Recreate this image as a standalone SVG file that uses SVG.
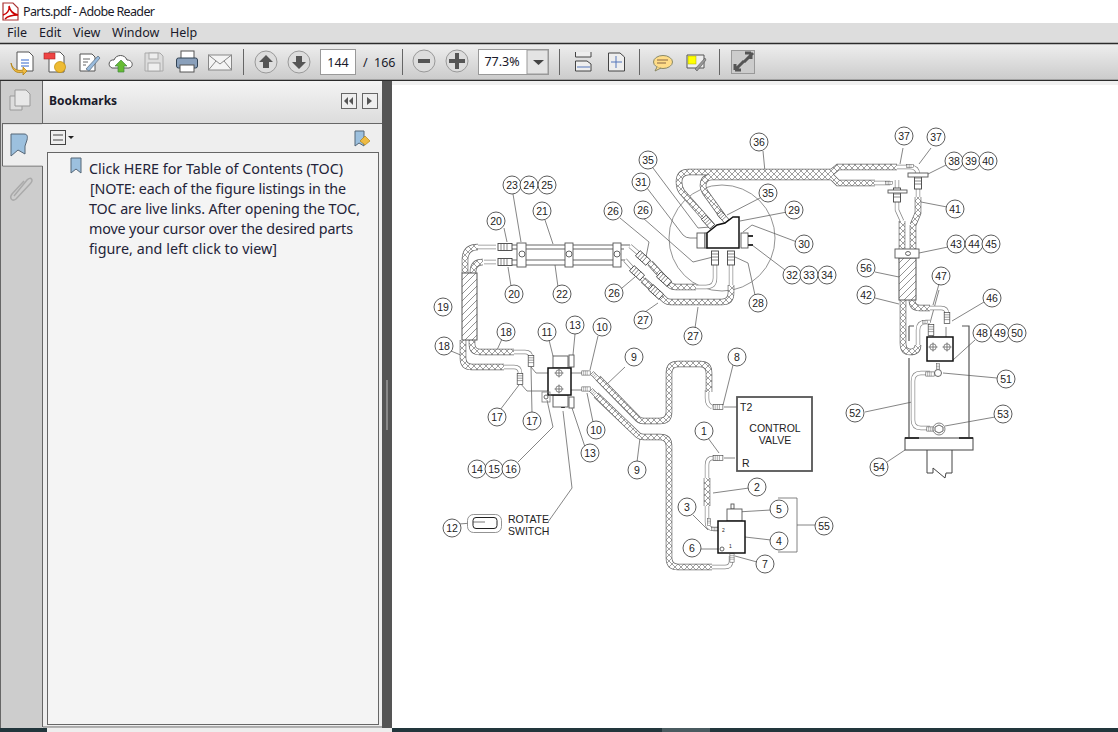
<svg xmlns="http://www.w3.org/2000/svg" width="1118" height="732" viewBox="0 0 1118 732">
<style>
text{font-family:"Noto Sans","Open Sans","Liberation Sans",sans-serif;fill:#1a1a2a}
.u{font-size:12.5px}
.toc{font-size:14.3px;fill:#232338}
.b text,.l{font-family:"Liberation Sans",Arial,sans-serif;font-size:10.5px;fill:#222}
.b text{text-anchor:middle}
.b circle{fill:#fff;stroke:#333;stroke-width:.8}
.ld path{fill:none;stroke:#666;stroke-width:.8}
.ho{fill:none;stroke:#666;stroke-width:6.6}
.hw{fill:none;stroke:url(#braid);stroke-width:5.2}
.to{fill:none;stroke:#888;stroke-width:4.4}
.tw{fill:none;stroke:#fff;stroke-width:3}
.k{fill:#fff;stroke:#111;stroke-width:1.5}
.g{fill:#fff;stroke:#555;stroke-width:.9}
.t{fill:none;stroke:#555;stroke-width:.9}
.ik{fill:#fff;stroke:#555;stroke-width:1}
.rb{fill:#ddd;stroke:#999;stroke-width:1}
.sp{stroke:#666;stroke-width:1}
</style>
<defs>
<linearGradient id="tb" x1="0" y1="0" x2="0" y2="1"><stop offset="0" stop-color="#eee"/><stop offset="1" stop-color="#cbcbcb"/></linearGradient>
<linearGradient id="hd" x1="0" y1="0" x2="0" y2="1"><stop offset="0" stop-color="#f4f4f4"/><stop offset="1" stop-color="#dcdcdc"/></linearGradient>
<pattern id="braid" width="6" height="6" patternUnits="userSpaceOnUse"><rect width="6" height="6" fill="#fff"/><path d="M0 0L6 6M6 0L0 6" stroke="#777" stroke-width=".7"/></pattern>
<pattern id="hatch" width="7" height="7" patternUnits="userSpaceOnUse"><rect width="7" height="7" fill="#fff"/><path d="M-1 8L8 -1M-1 1L1 -1M6 8L8 6" stroke="#666" stroke-width=".7"/></pattern>
<g id="fit"><rect x="-7" y="-3.5" width="14" height="7" fill="#fff" stroke="#444" stroke-width=".9"/><path d="M-4 -3.5V3.5M-1 -3.5V3.5M2 -3.5V3.5" stroke="#555" stroke-width=".7"/></g>
<g id="cross"><circle r="3.2" fill="#fff" stroke="#555" stroke-width=".7"/><path d="M-4.5 0H4.5M0 -4.5V4.5" stroke="#555" stroke-width=".7"/></g>
<g id="tubes">
<path d="M496 247H477M496 262H484"/>
<path d="M504 367H514Q520 367 520 373V378M514 352H525Q531 352 531 358V361"/>
<path d="M630 246L650 263M625 260L643 280"/>
<path d="M715 263V278Q715 287 706 287H696M731 263V285"/>
<path d="M897 167H910Q918 167 918 175V197M875 183H890M897 180V210L902 221"/>
<path d="M712 407Q707 405 707 398V390M718 458H713Q707 458 707 465V478M707 506V522Q707 529 714 529H720"/>
<path d="M712 567H725Q731 567 731 561V556"/>
<path d="M918 345V330Q918 322 926 322H930M930 308H941Q947 308 947 314V318"/>
<path d="M930 373H921Q913 373 913 381V420Q913 428 921 428H930"/>
</g>
<g id="hoses">
<path d="M478 247Q465 247 465 260V273"/>
<path d="M483 262Q473 262 473 272V274"/>
<path d="M463 340V358Q463 367 472 367H504"/>
<path d="M472 340V344Q472 352 480 352H514"/>
<path d="M650 263L670 285Q672 287 676 287H696M643 280L665 300Q667 302 671 302H722Q731 302 731 293V285"/>
<path d="M598 378L638 419Q640 421 644 421H660Q669 421 669 412V373Q669 364 678 364H700Q709 364 709 373V392"/>
<path d="M596 395L638 435Q640 437 644 437H660Q669 437 669 446V558Q669 567 678 567H712"/>
<path d="M707 478V506"/>
<path d="M713 227L682 192Q679 188 679 182Q679 172 689 172H832L838 167H897M723 217L705 192Q703 188 703 186Q703 177 712 177H832L838 183H875"/>
<path d="M902 221V249L902 260M913 225L918 213V197M913 225V249"/>
<path d="M903 300V343Q903 352 910 352Q918 352 918 345"/>
<path d="M912 300Q912 308 920 308H930"/>
</g>
</defs>

<g id="window">
<rect width="1118" height="732" fill="#fff"/>
<rect y="23" width="1118" height="20" fill="#ddd"/>
<rect y="44" width="1118" height="36" fill="url(#tb)"/>
<path d="M0 43.5H1118M0 80.5H1118" stroke="#2b2b2b" stroke-width="1.4"/>
<rect x="392" y="81" width="726" height="4" fill="#f0f0f0"/>
<rect x="382" y="81" width="10" height="647" fill="#555"/>
<rect x="0" y="81" width="42" height="647" fill="#cdcdcd"/>
<rect x="42" y="81" width="340" height="42" fill="url(#hd)"/>
<rect x="42" y="124" width="340" height="603" fill="#eee"/>
<path d="M0.5 81V728M42.5 81V123M2 123.5H382M2.5 124V166H42.500M42.500 166V727H382" fill="none" stroke="#666" stroke-width="1"/>
<rect x="3" y="124.500" width="40" height="41" fill="#eee"/>
<rect x="47.500" y="152.500" width="331" height="572" fill="#f4f4f4" stroke="#666"/>
<rect y="728" width="1118" height="4" fill="#22363c"/>
<rect x="47" y="728" width="345" height="4" fill="#eee"/>
<rect x="662" y="728" width="48" height="4" fill="#4a5b60"/>
<rect x="386" y="380" width="2" height="50" fill="#888"/>
</g>

<g id="titlebar">
<path d="M3 3H13L18 8V20H3Z" fill="#fff" stroke="#a33" stroke-width="1.2"/>
<path d="M3 15C7 14 10 10 9 6C10 11 13 14 18 15C13 15 8 16 5 19" fill="none" stroke="#c00" stroke-width="1.500"/>
<text class="u" x="23" y="16" textLength="132">Parts.pdf - Adobe Reader</text>
<text class="u" x="7" y="37">File</text><text class="u" x="39" y="37">Edit</text><text class="u" x="73" y="37">View</text><text class="u" x="112" y="37">Window</text><text class="u" x="170" y="37">Help</text>
</g>

<g id="toolbar">
<path d="M17 52H29L33 56V71H17Z" class="ik"/><path d="M21 60H29M21 63H29M21 66H29" stroke="#36c"/><path d="M11 63C13 70 18 71 23 70L23 67L27 71L23 75V72C17 74 12 71 11 63Z" fill="#eb4" stroke="#a70" stroke-width=".7"/>
<path d="M49 52H60L64 56V72H49Z" class="ik"/><rect x="44" y="53" width="11" height="6" fill="#e44" stroke="#a22" stroke-width=".6"/><circle cx="60" cy="67" r="5.500" fill="#eb3" stroke="#b80" stroke-width=".7"/>
<path d="M80 54H92L95 57V71H80Z" class="ik"/><path d="M83 59H90M83 62H88M83 65H86" stroke="#666"/><path d="M86 69L98 56L100 58L89 71Z" fill="#9bd" stroke="#567" stroke-width=".7"/>
<path d="M112 68C107 66 109 59 114 60C116 54 125 54 127 60C133 60 134 67 129 68Z" class="ik"/><path d="M121 60L127 66H124V72H118V66H115Z" fill="#6b3" stroke="#484" stroke-width=".7"/>
<path d="M145 53H160L163 56V71H145Z" fill="#ddd" stroke="#aaa"/><rect x="149" y="53" width="9" height="6" fill="#eee" stroke="#aaa"/><rect x="148" y="63" width="12" height="8" fill="#eee" stroke="#aaa"/>
<rect x="181" y="51" width="13" height="8" class="ik"/><rect x="176.500" y="58" width="21" height="10" rx="2" fill="#8aa0bb" stroke="#345"/><rect x="180" y="65" width="14" height="7" class="ik"/>
<rect x="208.500" y="55" width="23" height="15" fill="#f4f4f4" stroke="#888"/><path d="M208.500 55L220 64L231.500 55M208.500 70L216 61M231.500 70L224 61" fill="none" stroke="#888"/>
<path class="sp" d="M243.500 49V75M402.500 49V75M559.500 49V75M639.500 49V75M719.500 49V75"/>
<circle cx="266" cy="62" r="11" class="rb"/><path d="M266 55L273 62H269V68H263V62H259Z" fill="#555"/>
<circle cx="299" cy="62" r="11" class="rb"/><path d="M299 69L292 62H296V56H302V62H306Z" fill="#555"/>
<rect x="320.500" y="49.500" width="35" height="25" fill="#fff" stroke="#999"/>
<text class="u" x="338" y="67" text-anchor="middle">144</text><text class="u" x="363" y="67">/</text><text class="u" x="374" y="67">166</text>
<circle cx="424" cy="61" r="11" class="rb"/><rect x="418" y="59" width="12" height="4" fill="#555"/>
<circle cx="457" cy="61" r="11" class="rb"/><path d="M455 53H459V59H465V63H459V69H455V63H449V59H455Z" fill="#555"/>
<rect x="478.500" y="49.500" width="70" height="25" fill="#fff" stroke="#999"/><rect x="527" y="50" width="21" height="24" fill="#e4e4e4" stroke="#999"/>
<text class="u" x="502" y="66" text-anchor="middle">77.3%</text><path d="M533 60H544L538.500 65Z" fill="#444"/>
<path d="M575.500 52V57H591V52M575.500 71V61H587L591 64V71Z" fill="#eee" stroke="#444"/><path d="M577 67H590" stroke="#57b"/>
<path d="M608.500 53H620L624.500 57V71H608.500Z" fill="#eee" stroke="#444"/><path d="M616 56V68M611 62H622" stroke="#57b"/>
<ellipse cx="663" cy="62" rx="9.500" ry="6.500" fill="#fd8" stroke="#886"/><path d="M657 67L655 71L661 68" fill="#fd8" stroke="#886"/><path d="M657 60H668M657 63H666" stroke="#864"/>
<path d="M687 55H704V68H687Z" fill="#eee" stroke="#555"/><rect x="688" y="56" width="8" height="8" fill="#ff0" stroke="#aa0" stroke-width=".5"/><path d="M695 69L705 58L706 60L697 71Z" fill="#999" stroke="#555" stroke-width=".6"/>
<rect x="731.500" y="50.500" width="23" height="23" fill="#ccc" stroke="#999"/><path d="M735 70L744 61M753 53L744 62M735 70V64M735 70H741M751 53H745M751 53V59" stroke="#555" stroke-width="3" fill="none"/>
</g>

<g id="sidepanel">
<path d="M10 96H22V110H10Z" fill="#ddd" stroke="#999"/><path d="M15 90H26L30 94V106H15Z" fill="#e8e8e8" stroke="#999"/>
<path d="M11 134H24C27 134 28 136 27 140L25 146V154L18 150L11 156Z" fill="#9cc0de" stroke="#567"/>
<path d="M14 196L27 180C31 176 34 180 30 184L16 199C12 202 9 198 12 194L24 181" fill="none" stroke="#aaa" stroke-width="1.500"/>
<text x="49" y="105" font-size="12" font-weight="700" style="font-family:'Noto Sans',sans-serif">Bookmarks</text>
<rect x="341.500" y="93.500" width="15" height="15" fill="#eee" stroke="#666"/><path d="M348 97L344 101L348 105ZM353 97L349 101L353 105Z" fill="#555"/>
<rect x="362.500" y="93.500" width="15" height="15" fill="#eee" stroke="#666"/><path d="M367 97L372 101L367 105Z" fill="#555"/>
<rect x="50.500" y="130.500" width="15" height="14" fill="#eee" stroke="#444"/><path d="M53 135H63M53 140H63" stroke="#444"/>
<path d="M68 136H74L71 139Z" fill="#222"/>
<path d="M355 131H364V146L359 143L355 146Z" fill="#9cc0de" stroke="#567"/><path d="M360 141L365 136L370 141L365 145Z" fill="#eb4" stroke="#a70" stroke-width=".6"/>
<path d="M71 158H81V173L76 169L71 173Z" fill="#9cc0de" stroke="#567"/>
<text class="toc" x="89" y="174" textLength="254">Click HERE for Table of Contents (TOC)</text>
<text class="toc" x="90" y="194" textLength="256">[NOTE: each of the figure listings in the</text>
<text class="toc" x="89" y="214" textLength="271">TOC are live links. After opening the TOC,</text>
<text class="toc" x="89" y="234" textLength="264">move your cursor over the desired parts</text>
<text class="toc" x="89" y="254" textLength="188">figure, and left click to view]</text>
</g>

<g id="detail-circle"><circle cx="722" cy="238" r="53" fill="none" stroke="#777" stroke-width=".8"/></g>

<g id="connectors">
<g class="ld">
<path d="M507 242L504 228M508 267L511 286M545 220L553 244M558 287L555 265M513 194L521 242M620 218L649 242L645 262M622 288L635 277M643 218L693 262L713 257M645 312L658 303M698 307L695 328M755 295L748 263L735 257M647 188L683 235Q686 238 690 238H697M653 168L698 228L710 227M760 198L727 215M787 212L740 221M797 242L752 225L743 232M785 270L752 245M763 151L765 172"/>
<path d="M903 148L900 164M931 148L919 164M946 165L928 174M947 207L921 202M948 247L919 253M875 272L899 277M875 298L899 304M939 284L933 305M939 290L930 323M984 302L952 321M975 340L953 360M943 373L997 378M945 426L995 417M865 412L912 402M887 462L905 450"/>
<path d="M502 339L497 350M451 351L463 356M549 340L553 356M575 334L573 355M598 336L590 370M625 367L606 385M500 410L519 385M532 413L531 367M593 422L587 393M585 447L572 408M637 462L640 438M518 462L553 427L547 400"/>
<path d="M733 365L723 405M708 438L719 453M749 488L713 493M693 515L708 530M771 510L737 512M771 540L745 537M700 549L719 549M757 562L735 556M797 525H816M778 498H797V552H778"/>
<path d="M459 524L485 522M548 522L572 488L563 411"/>
<path d="M531 367L536 373H548M520 383L527 391H548M571 373H582M571 390H582M724 407H737M724 458H735M946 327V337M933 330V337"/>
</g>
<path d="M561 408L565 408L563 400Z" fill="#111"/>
<use href="#tubes" class="to"/><use href="#tubes" class="tw"/>
<use href="#hoses" class="ho"/><use href="#hoses" class="hw"/>
</g>

<g id="cooler19"><rect x="462" y="273" width="15" height="67" fill="url(#hatch)" stroke="#555"/></g>
<g id="cooler56"><rect x="899" y="258" width="17" height="42" fill="url(#hatch)" stroke="#555"/></g>

<g id="cylinder">
<path d="M512 245H630M512 249H624M512 260H625M512 265H619" stroke="#555" stroke-width=".9" fill="none"/>
<rect x="517" y="243" width="9" height="24" class="g"/><circle cx="522" cy="254" r="3" class="g"/>
<rect x="565" y="243" width="8" height="24" class="g"/><circle cx="569" cy="254" r="3" class="g"/>
<rect x="613" y="243" width="8" height="24" class="g"/><circle cx="617" cy="254" r="3" class="g"/>
</g>

<g id="fittings">
<use href="#fit" transform="translate(505 247)"/><use href="#fit" transform="translate(505 262)"/>
<use href="#fit" transform="translate(643 258) rotate(42)"/><use href="#fit" transform="translate(637 273) rotate(42)"/>
<use href="#fit" transform="translate(664 279) rotate(42)"/><use href="#fit" transform="translate(656 292) rotate(42)"/>
<use href="#fit" transform="translate(715 258) rotate(90)"/><use href="#fit" transform="translate(731 258) rotate(90)"/>
<use href="#fit" transform="translate(708 222) rotate(48) scale(.9)"/><use href="#fit" transform="translate(723 217) rotate(48) scale(.8)"/>
<use href="#fit" transform="translate(531 361) rotate(90) scale(.8)"/><use href="#fit" transform="translate(520 379) rotate(90) scale(.8)"/>
<use href="#fit" transform="translate(586 373) scale(.6)"/><use href="#fit" transform="translate(586 389) scale(.6)"/>
<use href="#fit" transform="translate(595 376) rotate(45) scale(.6)"/><use href="#fit" transform="translate(594 393) rotate(45) scale(.6)"/>
<use href="#fit" transform="translate(718 407) scale(.7)"/><use href="#fit" transform="translate(718 458) scale(.7)"/>
<use href="#fit" transform="translate(709 522) rotate(90) scale(.5)"/><use href="#fit" transform="translate(715 529) scale(.5)"/><use href="#fit" transform="translate(732 558) rotate(90) scale(.6)"/>
<use href="#fit" transform="translate(910 166) scale(.5)"/><use href="#fit" transform="translate(889 183) scale(.5)"/>
<use href="#fit" transform="translate(918 182) rotate(90)"/><use href="#fit" transform="translate(897 195) rotate(90)"/>
<rect x="908" y="173" width="20" height="4" class="g"/><rect x="888" y="190" width="19" height="3" class="g"/>
<use href="#fit" transform="translate(931 330) rotate(90) scale(.8)"/><use href="#fit" transform="translate(947 318) rotate(90) scale(.8)"/>
<use href="#fit" transform="translate(925 322) scale(.4)"/><use href="#fit" transform="translate(930 374) scale(.6)"/><use href="#fit" transform="translate(931 429) scale(.6)"/>
<use href="#fit" transform="translate(938 367) rotate(90) scale(.5)"/>
<circle cx="939" cy="429" r="6" fill="#fff" stroke="#666" stroke-width=".8"/><path d="M935 427L939 425L943 427V431L939 433L935 431Z" class="g"/>
<circle cx="938" cy="373" r="3.500" class="g"/>
</g>

<g id="clamp43"><rect x="895" y="249" width="24" height="9" class="g"/><ellipse cx="908" cy="253.500" rx="2.500" ry="2" class="g"/></g>

<g id="rotate-valve">
<rect x="553" y="356" width="15" height="12" class="g"/><rect x="553" y="395" width="15" height="12" class="g"/>
<rect x="569" y="355" width="5" height="12" class="g"/><rect x="569" y="397" width="5" height="11" class="g"/>
<rect x="548" y="368" width="23" height="27" class="k"/>
<use href="#cross" x="559" y="373"/><use href="#cross" x="559" y="389"/>
<rect x="542" y="392" width="8" height="10" fill="none" stroke="#777" stroke-width=".8"/><circle cx="546" cy="397" r="2" class="g"/>
</g>

<g id="block29">
<rect x="697" y="233" width="8" height="15" class="g"/><rect x="705" y="233" width="2" height="15" class="g"/>
<path d="M707 233L717 225L725 223L733 217H739V248H707Z" class="k"/>
<rect x="741" y="233" width="7" height="15" class="g"/><path d="M748 236H753M748 245H753" stroke="#333" stroke-width="1.800"/>
</g>

<g id="control-valve">
<rect x="737" y="397" width="75" height="74" fill="#fff" stroke="#555" stroke-width="1.800"/>
<text class="l" x="740" y="411">T2</text><text class="l" x="775" y="432" text-anchor="middle">CONTROL</text><text class="l" x="775" y="444" text-anchor="middle">VALVE</text><text class="l" x="742" y="467">R</text>
</g>

<g id="valve4">
<rect x="731" y="504" width="3" height="5" class="g"/><rect x="727" y="509" width="15" height="12" class="g"/>
<rect x="718" y="521" width="27" height="32" class="k"/>
<circle cx="722" cy="549" r="2" class="g"/>
<text class="l" x="722" y="532" style="font-size:5px">2</text><text class="l" x="729" y="548" style="font-size:5px">1</text>
</g>

<g id="mount">
<path d="M909 326V341M909 358V437M909 326H914M962 326H969V437" fill="none" stroke="#555" stroke-width="1.200"/>
<rect x="927" y="337" width="26" height="24" class="k"/>
<use href="#cross" x="933" y="347"/><use href="#cross" x="947" y="347"/>
<rect x="905" y="438" width="68" height="12" fill="#fff" stroke="#555" stroke-width="1.100"/>
<path d="M905 438H919M959 438H973" stroke="#111" stroke-width="1.400"/>
<path d="M927 450V473H933V468L945 478L946 473H952V450" fill="none" stroke="#444" stroke-width="1"/>
</g>

<g id="rotate-switch">
<rect x="467.500" y="514.500" width="34" height="18" rx="6" fill="#fff" stroke="#777" stroke-width=".8"/>
<rect x="473" y="517.500" width="24" height="11" rx="3" fill="none" stroke="#222" stroke-width="1"/>
<path d="M473 522H485" stroke="#555" stroke-width=".8"/>
<text class="l" x="508" y="523">ROTATE</text><text class="l" x="508" y="535">SWITCH</text>
</g>

<g class="b">
<g id="n1"><circle cx="704" cy="431" r="9"/><text x="704" y="434.500">1</text></g>
<g id="n2"><circle cx="757" cy="487" r="9"/><text x="757" y="490.500">2</text></g>
<g id="n3"><circle cx="687" cy="507" r="9"/><text x="687" y="510.500">3</text></g>
<g id="n4"><circle cx="779" cy="541" r="9"/><text x="779" y="544.500">4</text></g>
<g id="n5"><circle cx="779" cy="509" r="9"/><text x="779" y="512.500">5</text></g>
<g id="n6"><circle cx="692" cy="548" r="9"/><text x="692" y="551.500">6</text></g>
<g id="n7"><circle cx="765" cy="564" r="9"/><text x="765" y="567.500">7</text></g>
<g id="n8"><circle cx="737" cy="357" r="9"/><text x="737" y="360.500">8</text></g>
<g id="n9a"><circle cx="634" cy="357" r="9"/><text x="634" y="360.500">9</text></g>
<g id="n9b"><circle cx="637" cy="470" r="9"/><text x="637" y="473.500">9</text></g>
<g id="n10a"><circle cx="602" cy="327" r="9"/><text x="602" y="330.500">10</text></g>
<g id="n10b"><circle cx="596" cy="430" r="9"/><text x="596" y="433.500">10</text></g>
<g id="n11"><circle cx="547" cy="332" r="9"/><text x="547" y="335.500">11</text></g>
<g id="n12"><circle cx="452" cy="528" r="9"/><text x="452" y="531.500">12</text></g>
<g id="n13a"><circle cx="575" cy="325" r="9"/><text x="575" y="328.500">13</text></g>
<g id="n13b"><circle cx="590" cy="453" r="9"/><text x="590" y="456.500">13</text></g>
<g id="n14"><circle cx="477" cy="469" r="9"/><text x="477" y="472.500">14</text></g>
<g id="n15"><circle cx="494" cy="469" r="9"/><text x="494" y="472.500">15</text></g>
<g id="n16"><circle cx="511" cy="469" r="9"/><text x="511" y="472.500">16</text></g>
<g id="n17a"><circle cx="497" cy="417" r="9"/><text x="497" y="420.500">17</text></g>
<g id="n17b"><circle cx="532" cy="421" r="9"/><text x="532" y="424.500">17</text></g>
<g id="n18a"><circle cx="506" cy="332" r="9"/><text x="506" y="335.500">18</text></g>
<g id="n18b"><circle cx="444" cy="346" r="9"/><text x="444" y="349.500">18</text></g>
<g id="n19"><circle cx="443" cy="307" r="9"/><text x="443" y="310.500">19</text></g>
<g id="n20a"><circle cx="496" cy="221" r="9"/><text x="496" y="224.500">20</text></g>
<g id="n20b"><circle cx="514" cy="294" r="9"/><text x="514" y="297.500">20</text></g>
<g id="n21"><circle cx="542" cy="211" r="9"/><text x="542" y="214.500">21</text></g>
<g id="n22"><circle cx="562" cy="294" r="9"/><text x="562" y="297.500">22</text></g>
<g id="n23"><circle cx="512" cy="185" r="9"/><text x="512" y="188.500">23</text></g>
<g id="n24"><circle cx="529" cy="185" r="9"/><text x="529" y="188.500">24</text></g>
<g id="n25"><circle cx="547" cy="185" r="9"/><text x="547" y="188.500">25</text></g>
<g id="n26a"><circle cx="613" cy="211" r="9"/><text x="613" y="214.500">26</text></g>
<g id="n26b"><circle cx="643" cy="210" r="9"/><text x="643" y="213.500">26</text></g>
<g id="n26c"><circle cx="614" cy="293" r="9"/><text x="614" y="296.500">26</text></g>
<g id="n27a"><circle cx="643" cy="320" r="9"/><text x="643" y="323.500">27</text></g>
<g id="n27b"><circle cx="693" cy="336" r="9"/><text x="693" y="339.500">27</text></g>
<g id="n28"><circle cx="758" cy="303" r="9"/><text x="758" y="306.500">28</text></g>
<g id="n29"><circle cx="794" cy="210" r="9"/><text x="794" y="213.500">29</text></g>
<g id="n30"><circle cx="804" cy="244" r="9"/><text x="804" y="247.500">30</text></g>
<g id="n31"><circle cx="641" cy="182" r="9"/><text x="641" y="185.500">31</text></g>
<g id="n32"><circle cx="792" cy="275" r="9"/><text x="792" y="278.500">32</text></g>
<g id="n33"><circle cx="809" cy="275" r="9"/><text x="809" y="278.500">33</text></g>
<g id="n34"><circle cx="827" cy="275" r="9"/><text x="827" y="278.500">34</text></g>
<g id="n35a"><circle cx="648" cy="160" r="9"/><text x="648" y="163.500">35</text></g>
<g id="n35b"><circle cx="768" cy="193" r="9"/><text x="768" y="196.500">35</text></g>
<g id="n36"><circle cx="759" cy="142" r="9"/><text x="759" y="145.500">36</text></g>
<g id="n37a"><circle cx="904" cy="136" r="9"/><text x="904" y="139.500">37</text></g>
<g id="n37b"><circle cx="936" cy="137" r="9"/><text x="936" y="140.500">37</text></g>
<g id="n38"><circle cx="954" cy="161" r="9"/><text x="954" y="164.500">38</text></g>
<g id="n39"><circle cx="971" cy="161" r="9"/><text x="971" y="164.500">39</text></g>
<g id="n40"><circle cx="988" cy="161" r="9"/><text x="988" y="164.500">40</text></g>
<g id="n41"><circle cx="955" cy="209" r="9"/><text x="955" y="212.500">41</text></g>
<g id="n42"><circle cx="866" cy="295" r="9"/><text x="866" y="298.500">42</text></g>
<g id="n43"><circle cx="956" cy="244" r="9"/><text x="956" y="247.500">43</text></g>
<g id="n44"><circle cx="974" cy="244" r="9"/><text x="974" y="247.500">44</text></g>
<g id="n45"><circle cx="991" cy="244" r="9"/><text x="991" y="247.500">45</text></g>
<g id="n46"><circle cx="992" cy="298" r="9"/><text x="992" y="301.500">46</text></g>
<g id="n47"><circle cx="941" cy="276" r="9"/><text x="941" y="279.500">47</text></g>
<g id="n48"><circle cx="982" cy="333" r="9"/><text x="982" y="336.500">48</text></g>
<g id="n49"><circle cx="1000" cy="333" r="9"/><text x="1000" y="336.500">49</text></g>
<g id="n50"><circle cx="1017" cy="333" r="9"/><text x="1017" y="336.500">50</text></g>
<g id="n51"><circle cx="1006" cy="379" r="9"/><text x="1006" y="382.500">51</text></g>
<g id="n52"><circle cx="855" cy="413" r="9"/><text x="855" y="416.500">52</text></g>
<g id="n53"><circle cx="1003" cy="414" r="9"/><text x="1003" y="417.500">53</text></g>
<g id="n54"><circle cx="879" cy="467" r="9"/><text x="879" y="470.500">54</text></g>
<g id="n55"><circle cx="824" cy="526" r="9"/><text x="824" y="529.500">55</text></g>
<g id="n56"><circle cx="866" cy="268" r="9"/><text x="866" y="271.500">56</text></g>
</g>
</svg>
